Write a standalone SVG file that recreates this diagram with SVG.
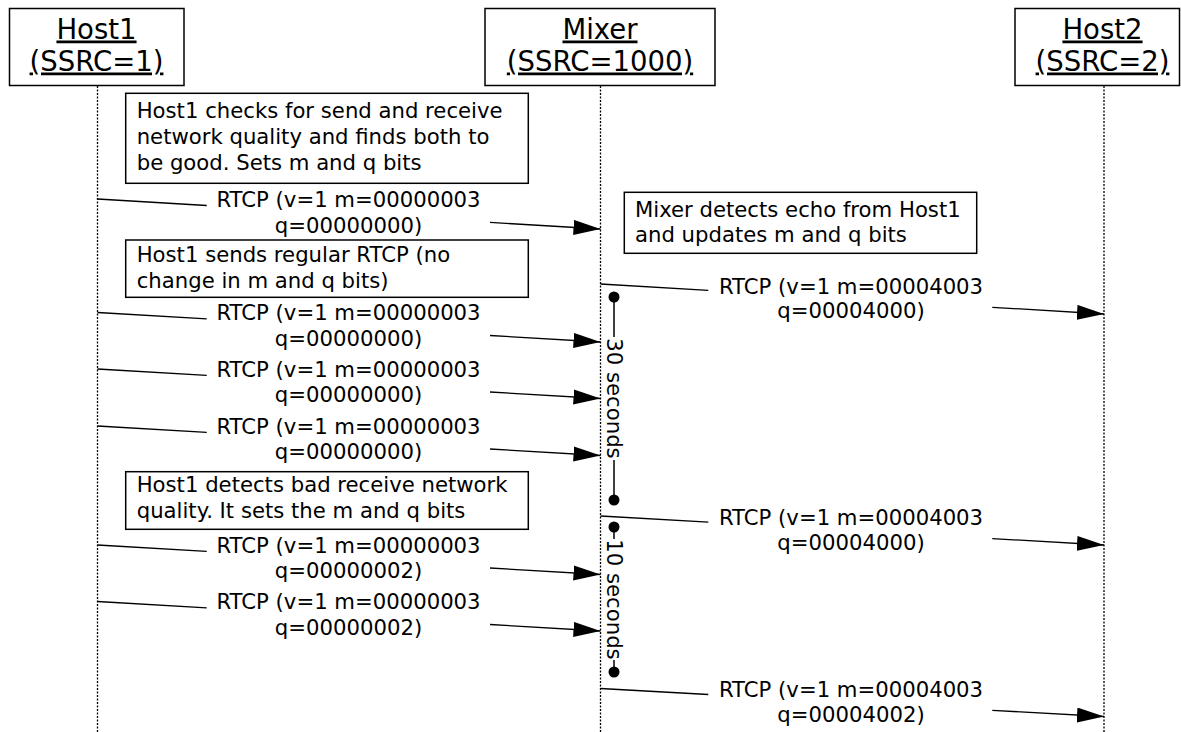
<svg xmlns="http://www.w3.org/2000/svg" width="1181" height="732" viewBox="0 0 1181 732">
<defs>
<marker id="arrow" markerUnits="userSpaceOnUse" markerWidth="28" markerHeight="16" refX="27" refY="7.5" orient="auto"><path d="M0,0 L27,7.5 L0,15 z" fill="#000"/></marker>
<style>
text { font-family: "DejaVu Sans", Verdana, sans-serif; fill: #000; }
.hdr { font-size: 27.5px; text-anchor: middle; text-decoration: underline; }
.body { font-size: 21.2px; }
.lbl { font-size: 21.2px; text-anchor: middle; }
.box { fill: #fff; stroke: #000; stroke-width: 1.5; }
.life { stroke: #000; stroke-width: 1.3; stroke-dasharray: 2 1.5; fill: none; }
.msg { stroke: #000; stroke-width: 1.3; fill: none; }
.dur { stroke: #000; stroke-width: 1.5; fill: none; }
.dot { fill: #000; }
</style>
</defs>
<rect width="1181" height="732" fill="#fff"/>

<g id="lifelines">
<line class="life" x1="97.5" y1="86" x2="97.5" y2="732"/>
<line class="life" x1="600.5" y1="86" x2="600.5" y2="732"/>
<line class="life" x1="1104" y1="86" x2="1104" y2="732"/>
</g>

<g id="host1">
<rect class="box" x="9.5" y="8.5" width="174.5" height="77"/>
<text class="hdr" x="96.5" y="38.5">Host1</text>
<text class="hdr" x="96.5" y="70.5">(SSRC=1)</text>
</g>
<g id="mixer">
<rect class="box" x="485" y="8.5" width="230" height="77"/>
<text class="hdr" x="600" y="38.5">Mixer</text>
<text class="hdr" x="600" y="70.5">(SSRC=1000)</text>
</g>
<g id="host2">
<rect class="box" x="1015" y="8.5" width="164.5" height="77"/>
<text class="hdr" x="1102.5" y="38.5">Host2</text>
<text class="hdr" x="1102.5" y="70.5">(SSRC=2)</text>
</g>

<g id="note1">
<rect class="box" x="125.7" y="93.3" width="402.6" height="90"/>
<text class="body" x="136.7" y="118.3">Host1 checks for send and receive</text>
<text class="body" x="136.7" y="144.3">network quality and finds both to</text>
<text class="body" x="136.7" y="170.3">be good. Sets m and q bits</text>
</g>
<g id="note2">
<rect class="box" x="125.7" y="240" width="402.6" height="57.3"/>
<text class="body" x="136.7" y="261.7">Host1 sends regular RTCP (no</text>
<text class="body" x="136.7" y="287.7">change in m and q bits)</text>
</g>
<g id="note3">
<rect class="box" x="125.7" y="471.7" width="402.6" height="57.6"/>
<text class="body" x="136.7" y="492.3">Host1 detects bad receive network</text>
<text class="body" x="136.7" y="518.3">quality. It sets the m and q bits</text>
</g>
<g id="note-mixer">
<rect class="box" x="624.3" y="192.3" width="352.4" height="61"/>
<text class="body" x="635" y="216.7">Mixer detects echo from Host1</text>
<text class="body" x="635" y="241.7">and updates m and q bits</text>
</g>

<g id="connectors">
<!-- Host1 -> Mixer -->
<line class="msg" x1="97.5" y1="199" x2="206.7" y2="205.5"/>
<line class="msg" x1="490" y1="222.4" x2="600.5" y2="229" marker-end="url(#arrow)"/>
<line class="msg" x1="97.5" y1="312.5" x2="206.7" y2="318.9"/>
<line class="msg" x1="490" y1="335.5" x2="600.5" y2="342" marker-end="url(#arrow)"/>
<line class="msg" x1="97.5" y1="369" x2="206.7" y2="375.4"/>
<line class="msg" x1="490" y1="392" x2="600.5" y2="398.5" marker-end="url(#arrow)"/>
<line class="msg" x1="97.5" y1="426" x2="206.7" y2="432.4"/>
<line class="msg" x1="490" y1="449" x2="600.5" y2="455.5" marker-end="url(#arrow)"/>
<line class="msg" x1="97.5" y1="545" x2="206.7" y2="551.4"/>
<line class="msg" x1="490" y1="568" x2="600.5" y2="574.5" marker-end="url(#arrow)"/>
<line class="msg" x1="97.5" y1="601.5" x2="206.7" y2="607.9"/>
<line class="msg" x1="490" y1="624.5" x2="600.5" y2="631" marker-end="url(#arrow)"/>
<!-- Mixer -> Host2 -->
<line class="msg" x1="600.5" y1="284" x2="708.3" y2="290.4"/>
<line class="msg" x1="992.3" y1="307.3" x2="1104" y2="314" marker-end="url(#arrow)"/>
<line class="msg" x1="600.5" y1="516" x2="708.3" y2="522.2"/>
<line class="msg" x1="992.3" y1="538.6" x2="1104" y2="545" marker-end="url(#arrow)"/>
<line class="msg" x1="600.5" y1="688.5" x2="708.3" y2="694.5"/>
<line class="msg" x1="992.3" y1="710.3" x2="1104" y2="716.5" marker-end="url(#arrow)"/>

<text class="lbl" x="348.5" y="207">RTCP (v=1 m=00000003</text>
<text class="lbl" x="348.5" y="232.5">q=00000000)</text>
<text class="lbl" x="348.5" y="320">RTCP (v=1 m=00000003</text>
<text class="lbl" x="348.5" y="345.5">q=00000000)</text>
<text class="lbl" x="348.5" y="376.5">RTCP (v=1 m=00000003</text>
<text class="lbl" x="348.5" y="402">q=00000000)</text>
<text class="lbl" x="348.5" y="433.5">RTCP (v=1 m=00000003</text>
<text class="lbl" x="348.5" y="459">q=00000000)</text>
<text class="lbl" x="348.5" y="552.5">RTCP (v=1 m=00000003</text>
<text class="lbl" x="348.5" y="578">q=00000002)</text>
<text class="lbl" x="348.5" y="609">RTCP (v=1 m=00000003</text>
<text class="lbl" x="348.5" y="634.5">q=00000002)</text>

<text class="lbl" x="851" y="293.5">RTCP (v=1 m=00004003</text>
<text class="lbl" x="851" y="318">q=00004000)</text>
<text class="lbl" x="851" y="525">RTCP (v=1 m=00004003</text>
<text class="lbl" x="851" y="549.5">q=00004000)</text>
<text class="lbl" x="851" y="696.5">RTCP (v=1 m=00004003</text>
<text class="lbl" x="851" y="721.5">q=00004002)</text>
</g>

<g id="duration-30">
<line class="dur" x1="614" y1="297" x2="614" y2="337"/>
<line class="dur" x1="614" y1="460" x2="614" y2="500"/>
<circle class="dot" cx="614" cy="297" r="5.5"/>
<circle class="dot" cx="614" cy="500" r="5.5"/>
<text class="lbl" x="0" y="0" dominant-baseline="central" transform="translate(614,398.5) rotate(90)">30 seconds</text>
</g>
<g id="duration-10">
<line class="dur" x1="614" y1="527" x2="614" y2="539"/>
<line class="dur" x1="614" y1="660" x2="614" y2="672"/>
<circle class="dot" cx="614" cy="527" r="5.5"/>
<circle class="dot" cx="614" cy="672" r="5.5"/>
<text class="lbl" x="0" y="0" dominant-baseline="central" transform="translate(614,599.5) rotate(90)">10 seconds</text>
</g>
</svg>
